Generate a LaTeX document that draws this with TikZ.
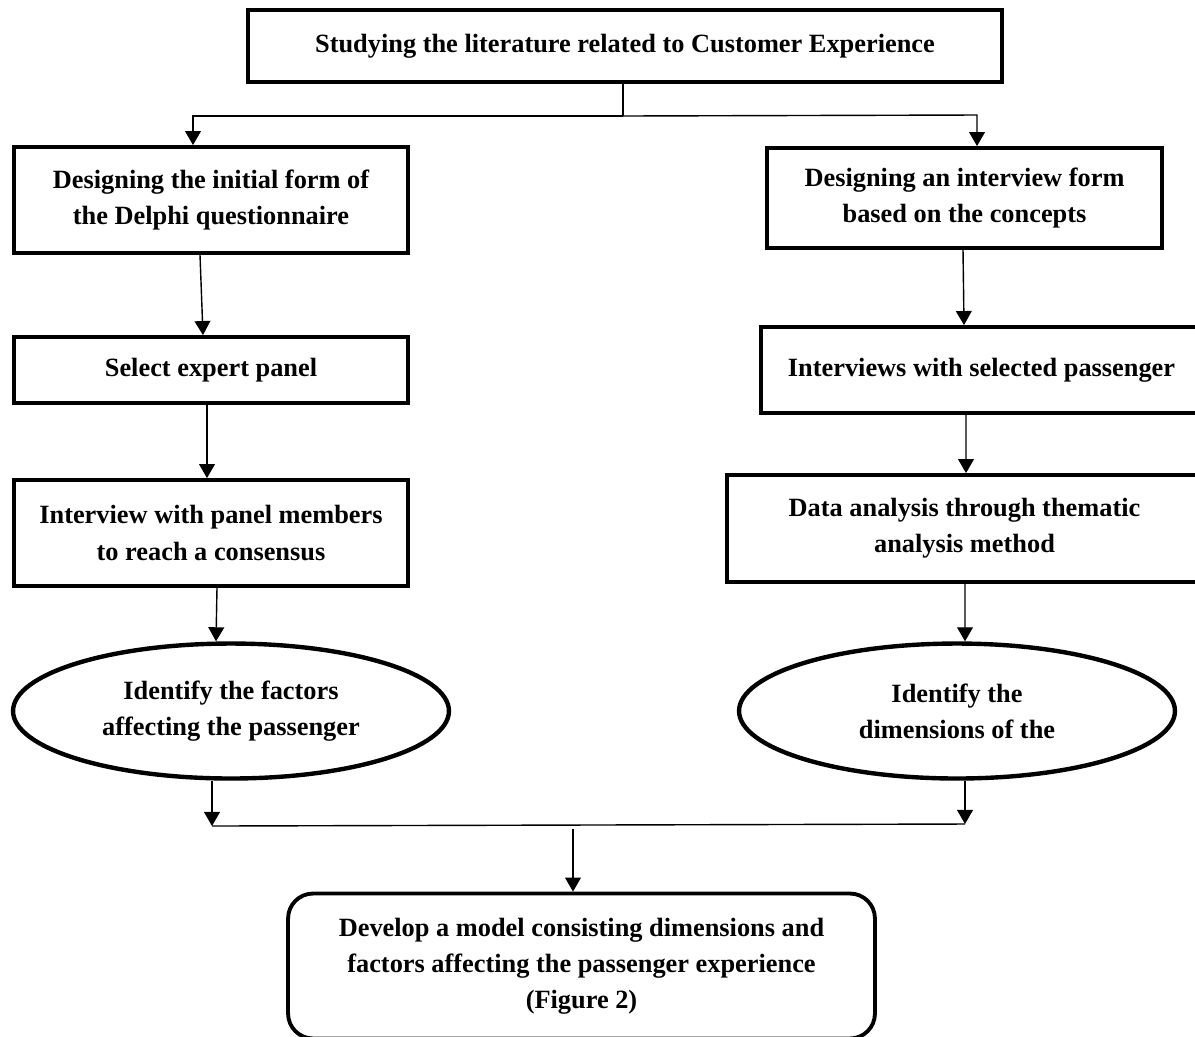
\documentclass[tikz,border=0pt]{standalone}
\usepackage{fontspec}
\setmainfont{Liberation Serif}
\usetikzlibrary{arrows.meta,shapes.geometric}
\tikzset{
	stepbox/.style={draw, line width=2.2pt, minimum width=#1, align=center, inner sep=2pt, font=\fontsize{15}{20.5}\selectfont\bfseries},
	ovalbox/.style={draw, ellipse, line width=2.5pt, minimum width=8.72cm, minimum height=2.7cm, align=center, font=\fontsize{15}{20.5}\selectfont\bfseries},
	arr/.style={line width=0.8pt, -{Triangle[length=8pt,width=9pt]}}
}

\begin{document}
\begin{tikzpicture}[x=0.02cm, y=-0.02cm]
			%%%%% START %%%%%
			\useasboundingbox (0, 0) rectangle (1195, 1036);
			
			\node[stepbox=15.08cm, minimum height=1.44cm] (lit) at (625, 46) {Studying the literature related to Customer Experience};
			
			\node[stepbox=7.88cm, minimum height=2.12cm] (delphi) at (211, 200) {Designing the initial form of\\the Delphi questionnaire};
			\node[stepbox=7.88cm, minimum height=1.32cm] (panel) at (211, 370) {Select expert panel};
			\node[stepbox=7.88cm, minimum height=2.12cm] (consensus) at (211, 533) {Interview with panel members\\to reach a consensus};
			\node[ovalbox] (factors) at (231, 711) {Identify the factors\\affecting the passenger};
			
			\node[stepbox=7.9cm, minimum height=2.0cm] (form) at (964.5, 198) {Designing an interview form\\based on the concepts};
			\node[stepbox=8.82cm, minimum height=1.72cm] (passenger) at (981.5, 370) {Interviews with selected passenger};
			\node[stepbox=9.5cm, minimum height=2.14cm] (thematic) at (964.5, 528.5) {Data analysis through thematic\\analysis method};
			\node[ovalbox] (dims) at (957, 711) {Identify the\\dimensions of the};
			
			\node[stepbox=11.74cm, minimum height=2.9cm, rounded corners=0.5cm] (model) at (581.5, 966) {Develop a model consisting dimensions and\\factors affecting the passenger experience\\(Figure 2)};
			
			% split below the literature box
			\coordinate (split) at (623, 116);
			\coordinate (jl) at (193, 116);
			\coordinate (jr) at (977, 115);
			\draw[line width=0.8pt] (lit.south -| split) -- (split);
			\draw[arr] (split) -- (jl) -- (jl |- delphi.north);
			\draw[arr] (split) -- (jr) -- (jr |- form.north);
			
			% left column
			\draw[arr] ([xshift=-0.22cm]delphi.south) -- ([xshift=-0.16cm]panel.north);
			\draw[arr] ([xshift=-0.08cm]panel.south) -- ([xshift=-0.08cm]consensus.north);
			\draw[arr] ([xshift=0.12cm]consensus.south) -- ([xshift=-0.3cm]factors.north);
			
			% right column
			\draw[arr] ([xshift=-0.03cm]form.south) -- ([xshift=-0.35cm]passenger.north);
			\draw[arr] ([xshift=-0.31cm]passenger.south) -- ([xshift=0.03cm]thematic.north);
			\draw[arr] ([xshift=0.01cm]thematic.south) -- ([xshift=0.16cm]dims.north);
			
			% join into the model
			\coordinate (ml) at (212, 826);
			\coordinate (mr) at (965, 824);
			\coordinate (mm) at (573, 829);
			\draw[arr] (ml |- factors.south) -- (ml);
			\draw[arr] (mr |- dims.south) -- (mr);
			\draw[line width=0.8pt] (ml) -- (mr);
			\draw[arr] (mm) -- (mm |- model.north);
			
			%%%%% END %%%%%
\end{tikzpicture}
\end{document}
